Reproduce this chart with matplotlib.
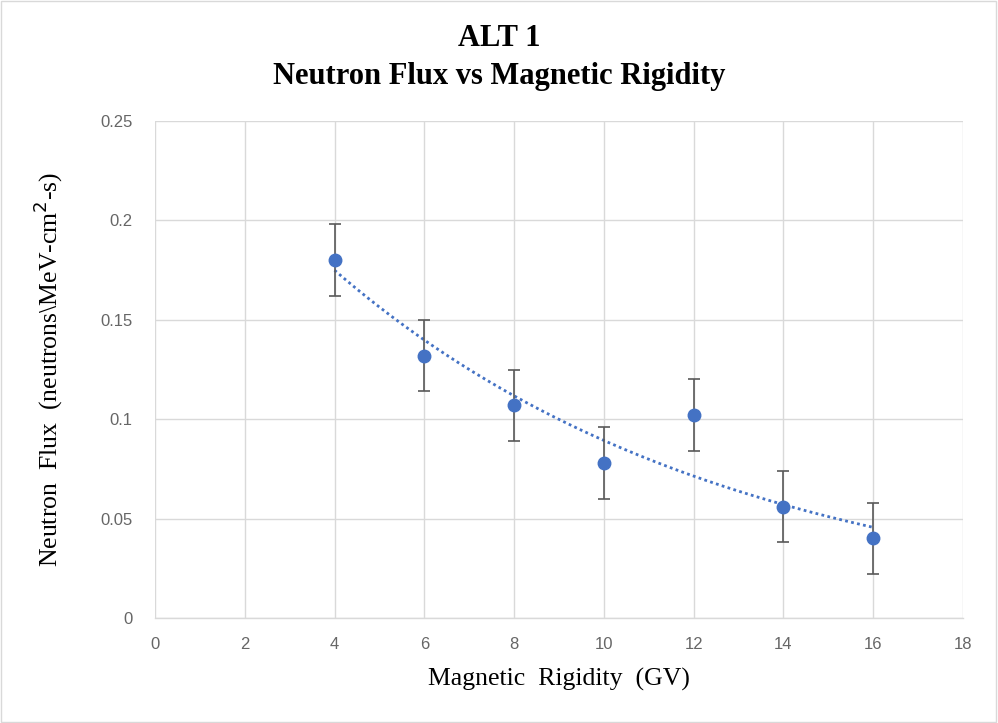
import numpy as np
import matplotlib.pyplot as plt
from matplotlib.patches import Rectangle

rigidity = [4, 6, 8, 10, 12, 14, 16]
flux = [0.180, 0.132, 0.107, 0.078, 0.102, 0.056, 0.040]
flux_err = [0.018] * 7
x_ticks = [0, 2, 4, 6, 8, 10, 12, 14, 16, 18]
y_ticks = [0, 0.05, 0.1, 0.15, 0.2, 0.25]
y_tick_labels = ["0", "0.05", "0.1", "0.15", "0.2", "0.25"]

fig = plt.figure(figsize=(9.98, 7.23), dpi=100)
ax = fig.add_axes([155/998, 105/723, 808/998, 497/723])

serif = ["Liberation Serif", "DejaVu Serif"]
narrow = ["Liberation Sans Narrow", "Liberation Sans", "DejaVu Sans"]

# exponential trendline (fit of ln y)
b, ln_a = np.polyfit(rigidity, np.log(flux), 1)
xs = np.linspace(min(rigidity), max(rigidity), 200)
ax.plot(xs, np.exp(ln_a) * np.exp(b * xs), linestyle=(0, (1, 1.2)), color="#4472C4",
        lw=2.0, zorder=3)

ax.errorbar(rigidity, flux, yerr=flux_err, fmt="o", color="#4472C4", ms=9,
            ecolor="#595959", elinewidth=1.2, capsize=4.5, capthick=1.2, zorder=4)

ax.set_xlim(0, 18)
ax.set_ylim(0, 0.25)
ax.set_xticks(x_ticks)
ax.set_yticks(y_ticks)
ax.set_yticklabels(y_tick_labels)
ax.grid(True, color="#D9D9D9", lw=1)
ax.set_axisbelow(True)
for s in ["top", "right", "left"]:
    ax.spines[s].set_visible(False)
ax.spines["bottom"].set_color("#D9D9D9")
ax.spines["bottom"].set_linewidth(1)
ax.tick_params(axis="x", length=0, labelsize=12, labelcolor="#666666", pad=14)
ax.tick_params(axis="y", length=0, labelsize=12, labelcolor="#666666", pad=16)
for lbl in ax.get_xticklabels() + ax.get_yticklabels():
    lbl.set_family(narrow)

ax.set_xlabel("Magnetic  Rigidity  (GV)", fontsize=18.5, family=serif)
ax.xaxis.set_label_coords(0.5, -0.100)
ax.set_ylabel(r"Neutron  Flux  (neutrons\MeV-cm$^{2}$-s)", fontsize=18.5, family=serif)
ax.yaxis.set_label_coords(-0.111, 0.5)

fig.text(0.5, 0.947, "ALT 1", ha="center", va="center", fontsize=22,
         fontweight="bold", family=serif)
fig.text(0.5, 0.894, "Neutron Flux vs Magnetic Rigidity", ha="center", va="center",
         fontsize=22, fontweight="bold", family=serif)

fig.patches.append(Rectangle((0.001, 0.001), 0.997, 0.997, transform=fig.transFigure,
                             fill=False, edgecolor="#D9D9D9", lw=1))

fig.savefig("out.png", dpi=100)
